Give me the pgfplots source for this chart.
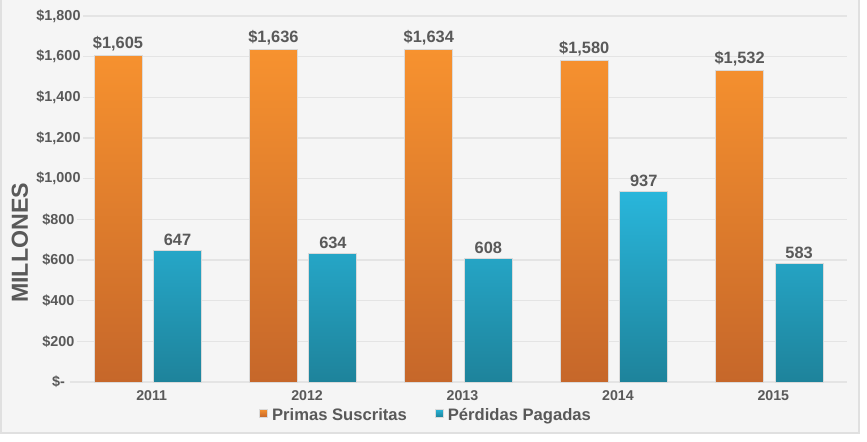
\documentclass[border=0pt]{standalone}
\usepackage{fontspec}
\setmainfont{Liberation Sans}
\usepackage{pgfplots}
\pgfplotsset{compat=1.18}
\definecolor{txt}{HTML}{595959}
\definecolor{bg}{HTML}{F5F5F5}
\definecolor{border}{HTML}{E0E0E0}
\definecolor{gridc}{HTML}{E4E4E4}
\definecolor{oTop}{HTML}{F7922F}
\definecolor{oBot}{HTML}{C6672A}
\definecolor{cTop}{HTML}{29B6DB}
\definecolor{cBot}{HTML}{1E839B}
\definecolor{shad}{HTML}{DADADA}
\begin{document}
\begin{tikzpicture}
\useasboundingbox (-35pt,-29.5pt) rectangle (398.5pt,191pt);
\fill[white] (-35pt,-29.5pt) rectangle (398.5pt,191pt);
\filldraw[fill=bg, draw=border, line width=0.7pt] (-34.5pt,-25.5pt) rectangle (394.5pt,200pt);
\begin{axis}[
  at={(0,0)}, anchor=south west,
  scale only axis, width=388.5pt, height=183pt,
  xmin=-0.5, xmax=4.5, ymin=0, ymax=1800,
  clip=false,
  axis line style={draw=none}, tick style={draw=none},
  ymajorgrids, grid style={color=gridc, line width=0.6pt},
  ytick={0,200,...,1800},
  yticklabels={\$-,\$200,\$400,\$600,\$800,{\$1,000},{\$1,200},{\$1,400},{\$1,600},{\$1,800}},
  yticklabel style={anchor=center, xshift=-5.75pt, fill=bg, inner sep=1pt,
    font=\bfseries\fontsize{7.2}{8}\selectfont, text=txt},
  xtick={0,1,2,3,4},
  xticklabels={2011,2012,2013,2014,2015},
  xticklabel style={anchor=base, yshift=-9pt, xshift=2pt,
    font=\bfseries\fontsize{7.1}{8}\selectfont, text=txt},
  ylabel={MILLONES},
  every axis y label/.style={at={(axis description cs:-0.0644,0.38)}, rotate=90, anchor=center,
    font=\bfseries\fontsize{11.6}{13}\selectfont, text=txt},
  /pgf/number format/assume math mode=true,
  nodes near coords style={anchor=south, inner sep=0pt, yshift=2pt, font=\bfseries\fontsize{8.2}{9}\selectfont, text=txt},
  legend columns=2,
  legend image code/.code={\fill[#1] (0pt,-0.5pt) rectangle (4pt,3.5pt);},
  legend style={at={(axis description cs:0.4595,-0.093)}, anchor=center, draw=none, fill=none,
    font=\bfseries\fontsize{8.3}{10}\selectfont, text=txt,
    /tikz/every even column/.append style={column sep=12pt}},
]
\addplot[ybar, bar width=24pt, bar shift=0pt, draw=shad, line width=0.5pt, top color=oTop, bottom color=oBot,
  nodes near coords={\$\pgfmathprintnumber[fixed, 1000 sep={,}]{\pgfplotspointmeta}}]
  coordinates {(-0.191,1605) (0.809,1636) (1.809,1634) (2.809,1580) (3.809,1532)};
\addlegendentry{Primas Suscritas}
\addplot[ybar, bar width=24pt, bar shift=0pt, draw=shad, line width=0.5pt, top color=cTop, bottom color=cBot,
  nodes near coords={\pgfmathprintnumber[fixed]{\pgfplotspointmeta}}]
  coordinates {(0.192,647) (1.192,634) (2.192,608) (3.192,937) (4.192,583)};
\addlegendentry{Pérdidas Pagadas}
\end{axis}
\end{tikzpicture}
\end{document}
